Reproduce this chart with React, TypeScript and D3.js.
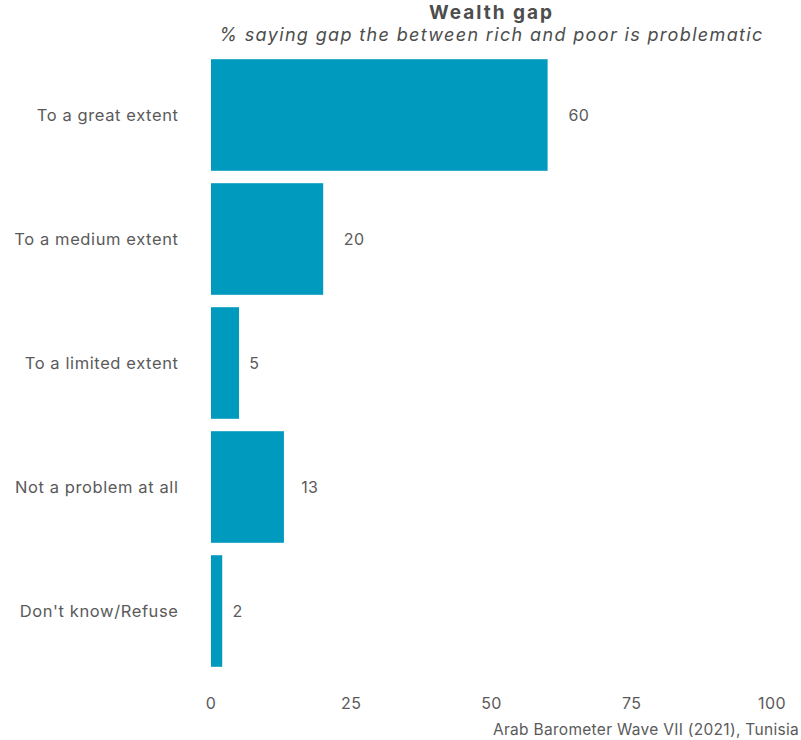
import React, { useEffect, useRef } from "react";
import * as d3 from "d3";

const categories = [
  "To a great extent",
  "To a medium extent",
  "To a limited extent",
  "Not a problem at all",
  "Don't know/Refuse",
];
const values = [60, 20, 5, 13, 2];
const xTicks = [0, 25, 50, 75, 100];
const title = "Wealth gap";
const subtitle = "% saying gap the between rich and poor is problematic";
const caption = "Arab Barometer Wave VII (2021), Tunisia";

const W = 801;
const H = 740;
const FONT = "Inter, 'Noto Sans', sans-serif";
const BAR = "#009ABF";
const TXT = "#5a5a5a";

export default function App() {
  const ref = useRef<SVGSVGElement | null>(null);
  useEffect(() => {
    const svg = d3.select(ref.current);
    svg.selectAll("*").remove();
    const x = d3.scaleLinear().domain([0, 100]).range([211, 772]);
    const y = d3
      .scaleBand<string>()
      .domain(categories)
      .range([53, 673])
      .paddingInner(0.1)
      .paddingOuter(0.05);

    const data = categories.map((c, i) => ({ c, v: values[i] }));

    svg
      .selectAll("rect.bar")
      .data(data)
      .join("rect")
      .attr("class", "bar")
      .attr("x", x(0))
      .attr("y", (d) => y(d.c)!)
      .attr("width", (d) => x(d.v) - x(0))
      .attr("height", y.bandwidth())
      .attr("fill", BAR);

    const vl = svg
      .selectAll("text.val")
      .data(data)
      .join("text")
      .attr("class", "val")
      .attr("y", (d) => y(d.c)! + y.bandwidth() / 2)
      .attr("dy", "0.35em")
      .attr("font-family", FONT)
      .attr("font-size", 16)
      .attr("letter-spacing", 0.4)
      .attr("fill", TXT)
      .text((d) => String(d.v));
    vl.each(function (d) {
      const t = this as SVGTextElement;
      const w = t.getComputedTextLength();
      d3.select(t).attr("x", x(d.v) + w);
    });

    svg
      .selectAll("text.cat")
      .data(data)
      .join("text")
      .attr("class", "cat")
      .attr("x", 178.5)
      .attr("y", (d) => y(d.c)! + y.bandwidth() / 2)
      .attr("dy", "0.35em")
      .attr("text-anchor", "end")
      .attr("font-family", FONT)
      .attr("font-size", 16.5)
      .attr("letter-spacing", 0.6)
      .attr("fill", TXT)
      .text((d) => d.c);

    svg
      .selectAll("text.tick")
      .data(xTicks)
      .join("text")
      .attr("class", "tick")
      .attr("x", (d) => x(d))
      .attr("y", 709)
      .attr("text-anchor", "middle")
      .attr("font-family", FONT)
      .attr("font-size", 16)
      .attr("letter-spacing", 0.4)
      .attr("fill", TXT)
      .text((d) => String(d));

    svg
      .append("text")
      .attr("x", (x(0) + x(100)) / 2)
      .attr("y", 19)
      .attr("text-anchor", "middle")
      .attr("font-family", FONT)
      .attr("font-size", 19)
      .attr("font-weight", "bold")
      .attr("letter-spacing", 2)
      .attr("fill", "#4d4d4d")
      .text(title);

    svg
      .append("text")
      .attr("x", (x(0) + x(100)) / 2)
      .attr("y", 40.5)
      .attr("text-anchor", "middle")
      .attr("font-family", FONT)
      .attr("font-size", 18)
      .attr("font-style", "italic")
      .attr("letter-spacing", 1.35)
      .attr("fill", "#4d4d4d")
      .text(subtitle);

    svg
      .append("text")
      .attr("x", 799)
      .attr("y", 735)
      .attr("text-anchor", "end")
      .attr("font-family", FONT)
      .attr("font-size", 15.5)
      .attr("letter-spacing", 0.3)
      .attr("fill", TXT)
      .text(caption);
  }, []);

  return (
    <svg
      ref={ref}
      width={W}
      height={H}
      style={{ position: "absolute", left: 0, top: 0, background: "#fff" }}
    />
  );
}
